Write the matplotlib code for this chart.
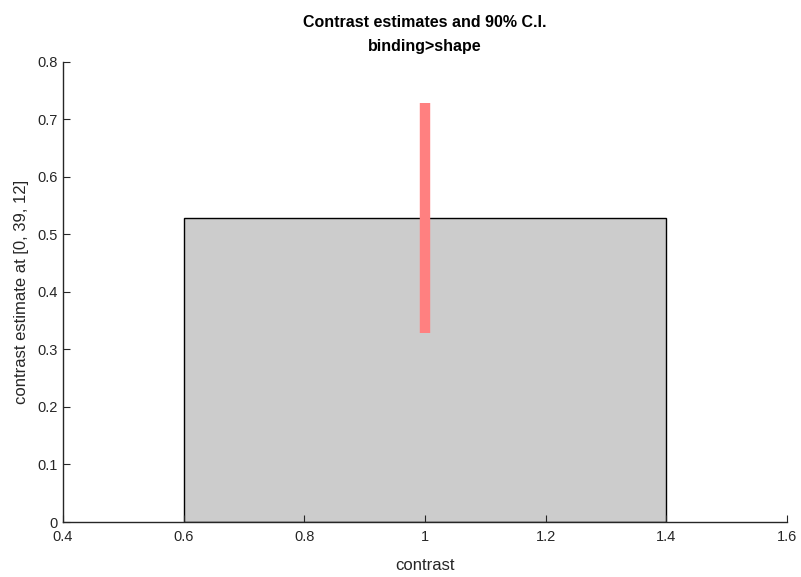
import matplotlib
matplotlib.use("Agg")
import matplotlib.pyplot as plt
from matplotlib import font_manager

names = {f.name for f in font_manager.fontManager.ttflist}
fam = [n for n in ["Liberation Sans Narrow", "Liberation Sans", "DejaVu Sans"] if n in names]
plt.rcParams['font.family'] = fam

# data
categories = [1.0]
estimates = [0.528]
ci_low = [0.329]
ci_high = [0.728]
bar_width = 0.8

fig = plt.figure(figsize=(8.01, 5.77), dpi=100)
ax = fig.add_axes([0.0787, 0.0953, 0.9039, 0.7975])

ax.bar(categories, estimates, width=bar_width, color="#cccccc", edgecolor="black", linewidth=1.0, zorder=1)
for x, lo, hi in zip(categories, ci_low, ci_high):
    ax.plot([x, x], [lo, hi], color="#ff8080", linewidth=7.5, solid_capstyle="butt", zorder=3)

ax.set_xlim(0.4, 1.6)
ax.set_ylim(0, 0.8)
ax.set_xticks([0.4, 0.6, 0.8, 1.0, 1.2, 1.4, 1.6])
ax.set_xticklabels(["0.4", "0.6", "0.8", "1", "1.2", "1.4", "1.6"])
ax.set_yticks([0, 0.1, 0.2, 0.3, 0.4, 0.5, 0.6, 0.7, 0.8])
ax.set_yticklabels(["0", "0.1", "0.2", "0.3", "0.4", "0.5", "0.6", "0.7", "0.8"])
ax.tick_params(direction="in", length=5, labelsize=10.5, colors="#262626", labelcolor="#262626")
ax.tick_params(axis="x", pad=6)
ax.tick_params(axis="y", pad=4)
for s in ["top", "right"]:
    ax.spines[s].set_visible(False)
for s in ["left", "bottom"]:
    ax.spines[s].set_color("#262626")
    ax.spines[s].set_linewidth(1.0)

ax.set_xlabel("contrast", fontsize=12, color="#262626", labelpad=10)
ax.set_ylabel("contrast estimate at [0, 39, 12]", fontsize=12, color="#262626", labelpad=6)
ax.set_title("Contrast estimates and 90% C.I.\nbinding>shape", fontsize=11.5, fontweight="bold", color="black", pad=8, linespacing=1.7)

fig.savefig("out.png", dpi=100)
